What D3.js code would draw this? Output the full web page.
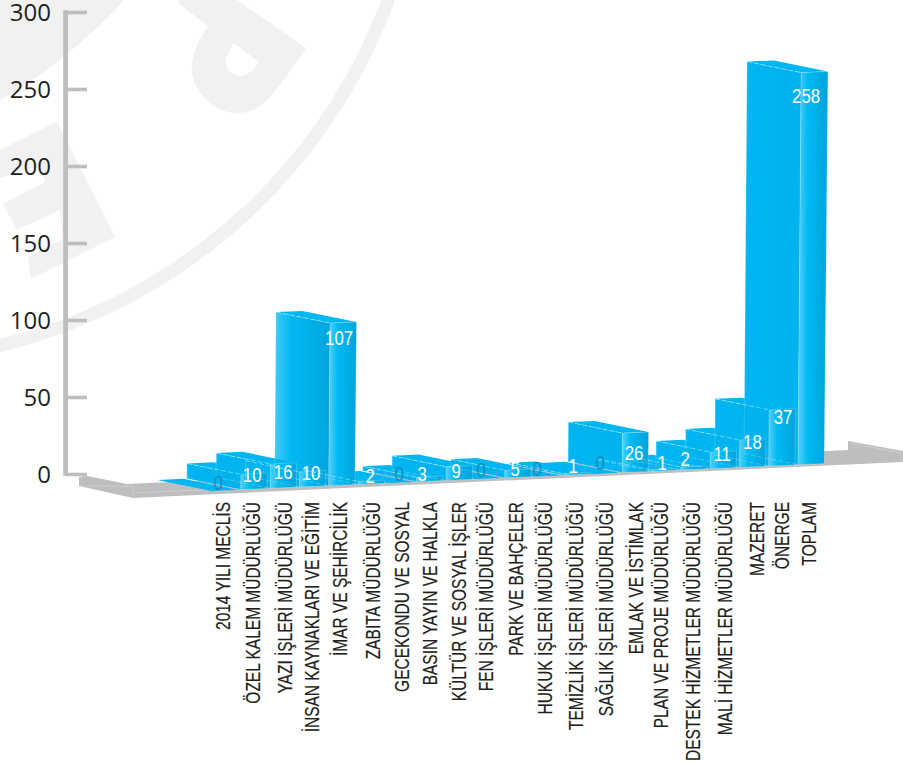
<!DOCTYPE html>
<html lang="tr"><head><meta charset="utf-8">
<script src="https://cdnjs.cloudflare.com/ajax/libs/d3/7.8.5/d3.min.js"></script>
<style>html,body{margin:0;padding:0;background:#fff}svg{display:block}</style>
</head><body><svg id="c" width="903" height="764"></svg>
<script>
const categories = ["2014 YILI MECLİS","ÖZEL KALEM MÜDÜRLÜĞÜ","YAZI İŞLERİ MÜDÜRLÜĞÜ","İNSAN KAYNAKLARI VE EĞİTİM","İMAR VE ŞEHİRCİLİK","ZABITA MÜDÜRLÜĞÜ","GECEKONDU VE SOSYAL","BASIN YAYIN VE HALKLA","KÜLTÜR VE SOSYAL İŞLER","FEN İŞLERİ MÜDÜRLÜĞÜ","PARK VE BAHÇELER","HUKUK İŞLERİ MÜDÜRLÜĞÜ","TEMİZLİK İŞLERİ MÜDÜRLÜĞÜ","SAĞLIK İŞLERİ MÜDÜRLÜĞÜ","EMLAK VE İSTİMLAK","PLAN VE PROJE MÜDÜRLÜĞÜ","DESTEK HİZMETLER MÜDÜRLÜĞÜ","MALİ HİZMETLER MÜDÜRLÜĞÜ","MAZERET","ÖNERGE","TOPLAM"];
const values = [0,10,16,10,107,2,0,3,9,0,5,0,1,0,26,1,2,11,18,37,258];
const axisTicks = [0,50,100,150,200,250,300];
// hand-placed label offsets of the original artwork
const labelShift = [-6.4,-1.7,0,-1.4,-2.7,-1,-1.4,-7.7,-3,-7.4,-2.7,-10,-3.4,-5.7,-1,-2.4,-8.7,-1,0,1.3,-5];
const labelRise = [8,14,15.7,13.4,147,7.8,8.5,8,8.8,8.5,8.2,6.9,8.6,10.3,19,7.7,10.4,14,24.8,48.5,369];
const catShift = [0,0.7,3.4,1,0,3.5,3,2,1.5,-0.7,0,0,1.4,2,3,-1.5,1,4,6.6,2,0];

const svg = d3.select("#c");
const defs = svg.append("defs");
function grad(id, stops){
  const g = defs.append("linearGradient").attr("id",id);
  stops.forEach(s=>g.append("stop").attr("offset",s[0]).attr("stop-color",s[1]));
}
grad("front",[[0,"#55CFF6"],[0.32,"#00BAF2"],[1,"#00A3DC"]]);
grad("sideTall",[[0,"#45CAF5"],[0.3,"#00B9F2"],[1,"#00A5DE"]]);
grad("sideFlat",[[0,"#2FC3F4"],[0.03,"#00B5F1"],[1,"#00B3EF"]]);

// watermark
const wm = svg.append("g").attr("fill","#F1F1F2");
wm.append("path").attr("d","M0,0L124,0Q65,64 0,100Z");
const ring = d3.arc().innerRadius(546).outerRadius(559).startAngle(Math.PI*0.4).endAngle(Math.PI*1.0);
wm.append("path").attr("transform","translate(-130,-191.6)").attr("d",ring());
wm.append("path").attr("d","M0,150L57,122L115,237L31,279L28,257L63,239L60,210L17,230L3,204L45,182L40,166L0,178Z");
wm.append("path").attr("fill-rule","evenodd").attr("d","M178,3L208,26C190,52 188,72 197,88C207,106 225,113 237,113C252,113 262,106 270,97C282,84 295,64 306,48L237,0L180,0ZM234,43L259,62C252,72 247,76 240,76C232,76 224,68 226,60C227,54 230,49 234,43Z");

// scales
const axisY = d3.scaleLinear().domain([0,300]).range([474,12]);
const barH = d3.scaleLinear().domain([0,300]).range([0,456]);
const xBase = d3.scaleLinear().domain([0,20]).range([211.4,798]);
const baseY = d3.scaleLinear().domain([254,815]).range([489,464]);
const barW = 26.2, depthX = -54, depthY = -11, lean = 0.008;

// axis
const axis = d3.axisLeft(axisY).tickValues(axisTicks).tickSize(-21).tickPadding(13).tickSizeOuter(0);
const ag = svg.append("g").attr("transform","translate(66,0)").call(axis);
ag.select(".domain").remove();
ag.selectAll("line").attr("stroke","#BCBEC0").attr("stroke-width",3.6);
ag.append("rect").attr("x",-2.8).attr("y",axisY(300)-1.8).attr("width",4.8).attr("height",axisY(0)-axisY(300)+3.6).attr("fill","#BCBEC0");
ag.selectAll("text").attr("x",-15).attr("font-family","'Open Sans'").attr("font-size",24).attr("fill","#231F20").attr("dy","0.36em");

// floor
const floor = svg.append("g");
floor.append("path").attr("fill","#BCBEC0").attr("d","M79,477L87,476L127,484L848,450L848,441L903,451L903,462L133,498L79,486Z");
floor.append("path").attr("fill","none").attr("stroke","#fff").attr("stroke-opacity",.35).attr("stroke-width",.7).attr("d","M80,486L133,486L133,497M133,493L240,488M850,443L901,453L901,461");

// bars, painted far right first so nearer faces cover them
const pts = a => a.map(p=>p[0].toFixed(1)+","+p[1].toFixed(1)).join(" ");
const bars = values.map((v,i)=>{
  const fx = xBase(i), h = barH(v);
  const yl = baseY(fx), yr = baseY(fx+barW);
  const shift = h*lean, wTop = barW + h*0.0015;
  return {v,i,h,
    fb:[[fx,yl],[fx+barW,yr]],
    ft:[[fx+shift,yl-h],[fx+shift+wTop,yr-h]],
    bb:[fx+depthX,yl+depthY],
    bt:[[fx+shift+depthX,yl-h+depthY],[fx+shift+wTop+depthX,yr-h+depthY]]};
}).sort((a,b)=>b.i-a.i);

const bg = svg.append("g").selectAll("g").data(bars).join("g");
bg.filter(d=>d.h>0).append("polygon")
  .attr("points",d=>pts([d.bt[0],d.ft[0],d.fb[0],d.bb]))
  .attr("fill",d=>d.i===4?"url(#sideTall)":"url(#sideFlat)");
bg.append("polygon")
  .attr("points",d=>pts([d.bt[0],d.bt[1],d.ft[1],d.ft[0]]))
  .attr("fill","#00B6F1");
bg.filter(d=>d.h>0).append("polygon")
  .attr("points",d=>pts([d.ft[0],d.ft[1],d.fb[1],d.fb[0]]))
  .attr("fill","url(#front)");

// faint see-through wireframe over all the bars
const wire = svg.append("g").selectAll("g").data(bars.filter(d=>d.h>0)).join("g")
  .attr("fill","none").attr("stroke","#fff").attr("stroke-width",.7);
wire.append("polygon").attr("points",d=>pts([d.ft[0],d.ft[1],d.fb[1],d.fb[0]])).attr("stroke-opacity",.3);
wire.append("line").attr("x1",d=>d.bt[0][0]).attr("y1",d=>d.bt[0][1]).attr("x2",d=>d.ft[0][0]).attr("y2",d=>d.ft[0][1])
  .attr("stroke-opacity",.6).attr("stroke-dasharray","5 2");
wire.append("line").attr("x1",d=>d.bb[0]).attr("y1",d=>d.bb[1]).attr("x2",d=>d.fb[0][0]).attr("y2",d=>d.fb[0][1])
  .attr("stroke-opacity",.35).attr("stroke-dasharray","5 2");
wire.append("line").attr("x1",d=>d.bt[0][0]).attr("y1",d=>d.bt[0][1]).attr("x2",d=>d.bb[0]).attr("y2",d=>d.bb[1])
  .attr("stroke-opacity",.25);

// value labels
const sans = "'Liberation Sans',sans-serif";
svg.append("g").selectAll("text").data(values).join("text")
  .attr("transform",(v,i)=>`translate(${xBase(i)+barW/2+labelShift[i]},${baseY(xBase(i)+barW/2)-labelRise[i]}) scale(0.8,1)`)
  .attr("dy","0.35em").attr("text-anchor","middle")
  .attr("font-family",sans).attr("font-size",21)
  .attr("fill",v=>v===0?"#0A84B0":"#fff").attr("fill-opacity",v=>v===0?.8:1)
  .text(v=>v);

// category labels
const catX = d3.scaleLinear().domain([0,20]).range([230,816]);
svg.append("g").selectAll("text").data(categories).join("text")
  .attr("transform",(c,i)=>`translate(${catX(i)+catShift[i]},502) rotate(-90) scale(0.775,1)`)
  .attr("text-anchor","end")
  .attr("font-family",sans).attr("font-size",20).attr("fill","#231F20")
  .attr("stroke","#231F20").attr("stroke-width",.2)
  .text(c=>c);
</script></body></html>
